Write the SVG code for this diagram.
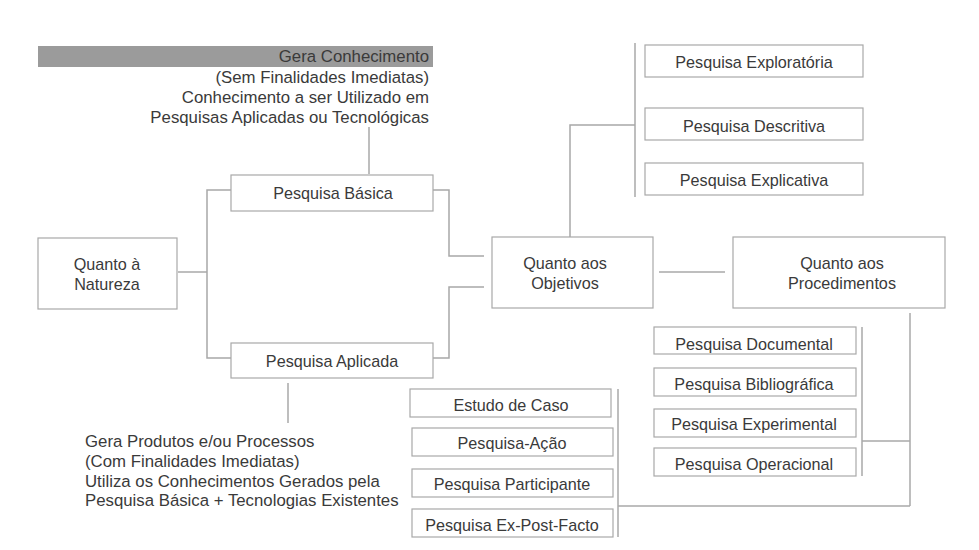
<svg xmlns="http://www.w3.org/2000/svg" width="979" height="550" viewBox="0 0 979 550">
<style>
  .box { fill: #ffffff; stroke: #a8a8a8; stroke-width: 1.2; }
  .ln { fill: none; stroke: #a8a8a8; stroke-width: 1.5; }
  text { font-family: "Liberation Sans", Arial, sans-serif; font-size: 16.2px; fill: #3a3a3a; }
  .n { font-size: 16.8px; }
  .c { text-anchor: middle; }
  .r { text-anchor: end; }
</style>
<rect width="979" height="550" fill="#ffffff"/>

<g id="connectors">
  <line class="ln" x1="369" y1="127" x2="369" y2="174"/>
  <polyline class="ln" points="178,272 207,272"/>
  <polyline class="ln" points="231,190 207,190 207,358 231,358"/>
  <polyline class="ln" points="433,190 449,190 449,256 484,256"/>
  <polyline class="ln" points="433,358 449,358 449,287 484,287"/>
  <line class="ln" x1="288" y1="383" x2="288" y2="423"/>
  <line class="ln" x1="659" y1="272" x2="725" y2="272"/>
  <polyline class="ln" points="570,237 570,125 635,125"/>
  <line class="ln" x1="635" y1="43" x2="635" y2="197"/>
  <line class="ln" x1="910" y1="313" x2="910" y2="506"/>
  <line class="ln" x1="862" y1="441" x2="910" y2="441"/>
  <line class="ln" x1="862" y1="327" x2="862" y2="476"/>
  <line class="ln" x1="618" y1="506" x2="910" y2="506"/>
  <line class="ln" x1="618" y1="389" x2="618" y2="537"/>
</g>

<g id="note-basica">
  <rect x="38" y="46" width="395" height="21" fill="#9b9b9b"/>
  <text class="r n" x="429" y="62">Gera Conhecimento</text>
  <text class="r n" x="429" y="83">(Sem Finalidades Imediatas)</text>
  <text class="r n" x="429" y="103">Conhecimento a ser Utilizado em</text>
  <text class="r n" x="429" y="123">Pesquisas Aplicadas ou Tecnológicas</text>
</g>

<g id="note-aplicada">
  <text class="n" x="85" y="447">Gera Produtos e/ou Processos</text>
  <text class="n" x="85" y="467">(Com Finalidades Imediatas)</text>
  <text class="n" x="85" y="487">Utiliza os Conhecimentos Gerados pela</text>
  <text class="n" x="85" y="506">Pesquisa Básica + Tecnologias Existentes</text>
</g>

<g id="natureza">
  <rect class="box" x="38" y="238" width="139" height="71"/>
  <text class="c" x="107" y="270">Quanto à</text>
  <text class="c" x="107" y="290">Natureza</text>
</g>

<g id="basica">
  <rect class="box" x="231" y="175" width="202" height="36"/>
  <text class="c" x="333" y="199">Pesquisa Básica</text>
</g>

<g id="aplicada">
  <rect class="box" x="231" y="343" width="202" height="35"/>
  <text class="c" x="332" y="367">Pesquisa Aplicada</text>
</g>

<g id="objetivos">
  <rect class="box" x="492" y="237" width="161" height="71"/>
  <text class="c" x="565" y="269">Quanto aos</text>
  <text class="c" x="565" y="289">Objetivos</text>
</g>

<g id="procedimentos">
  <rect class="box" x="733" y="237" width="212" height="71"/>
  <text class="c" x="842" y="269">Quanto aos</text>
  <text class="c" x="842" y="289">Procedimentos</text>
</g>

<g id="exploratoria">
  <rect class="box" x="645" y="45" width="218" height="32"/>
  <text class="c" x="754" y="68">Pesquisa Exploratória</text>
</g>
<g id="descritiva">
  <rect class="box" x="645" y="108" width="218" height="32"/>
  <text class="c" x="754" y="132">Pesquisa Descritiva</text>
</g>
<g id="explicativa">
  <rect class="box" x="645" y="163" width="218" height="32"/>
  <text class="c" x="754" y="186">Pesquisa Explicativa</text>
</g>

<g id="documental">
  <rect class="box" x="654" y="327" width="202" height="27"/>
  <text class="c" x="754" y="350">Pesquisa Documental</text>
</g>
<g id="bibliografica">
  <rect class="box" x="654" y="368" width="202" height="28"/>
  <text class="c" x="754" y="390">Pesquisa Bibliográfica</text>
</g>
<g id="experimental">
  <rect class="box" x="654" y="409" width="202" height="28"/>
  <text class="c" x="754" y="430">Pesquisa Experimental</text>
</g>
<g id="operacional">
  <rect class="box" x="654" y="448" width="202" height="28"/>
  <text class="c" x="754" y="470">Pesquisa Operacional</text>
</g>

<g id="estudo-caso">
  <rect class="box" x="410" y="389" width="201" height="28"/>
  <text class="c" x="511" y="411">Estudo de Caso</text>
</g>
<g id="pesquisa-acao">
  <rect class="box" x="412" y="428" width="201" height="28"/>
  <text class="c" x="512" y="449">Pesquisa-Ação</text>
</g>
<g id="participante">
  <rect class="box" x="412" y="469" width="201" height="28"/>
  <text class="c" x="512" y="490">Pesquisa Participante</text>
</g>
<g id="ex-post-facto">
  <rect class="box" x="412" y="509" width="201" height="28"/>
  <text class="c" x="512" y="531">Pesquisa Ex-Post-Facto</text>
</g>
</svg>
